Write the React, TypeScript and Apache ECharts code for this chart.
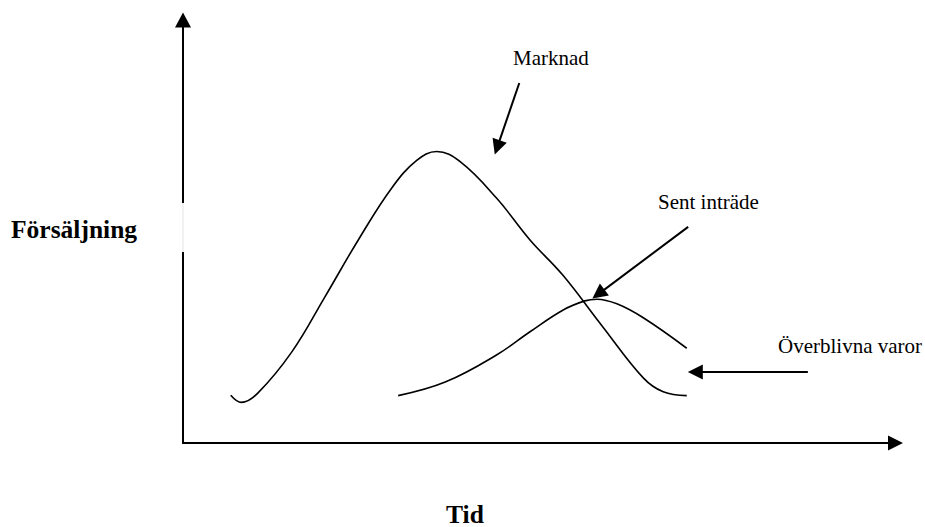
import React, { useEffect, useRef } from "react";
import * as echarts from "echarts";

// Curves (Tid, Försäljning), axis range 0..100
const marknadX = [6.7, 8.2, 10.5, 15.3, 19.9, 24.6, 29.3, 32.8, 35.6, 38.9, 44.0, 48.7, 53.3, 58.9, 64.6, 67.4, 70.7];
const marknadY = [11.3, 9.6, 11.8, 21.6, 34.5, 48.0, 60.3, 66.8, 68.9, 66.5, 57.9, 48.0, 39.7, 27.5, 15.4, 12.1, 11.2];

const sentX = [30.2, 36.8, 44.0, 48.7, 53.3, 56.4, 58.1, 60.9, 64.6, 70.7];
const sentY = [11.2, 14.4, 20.8, 26.3, 31.4, 33.6, 34.0, 32.9, 29.6, 22.4];

// Annotation arrows: [fromX, fromY, toX, toY]
const arrowMarknad = [47.2, 85.1, 44.1, 69.9];
const arrowSent = [70.9, 51.1, 58.3, 35.2];
const arrowOver = [87.7, 16.8, 71.9, 16.8];

const labelMarknad = "Marknad";
const labelSent = "Sent inträde";
const labelOver = "Överblivna varor";
const labelY = "Försäljning";
const labelX = "Tid";

const zip = (xs: number[], ys: number[]) => xs.map((x, i) => [x, ys[i]]);

const arrowItem = (a: number[]) => [
  { coord: [a[0], a[1]], symbol: "none" },
  { coord: [a[2], a[3]], symbol: "triangle", symbolSize: 15 },
];

const serif = "Liberation Serif";

const txt = (text: string, x: number, y: number, size: number, bold: boolean) => ({
  type: "text",
  z: 102,
  style: {
    text,
    x,
    y,
    fontFamily: serif,
    fontSize: size,
    fontWeight: bold ? "bold" : "normal",
    fill: "#000",
    verticalAlign: "middle",
    align: "left",
  },
});

export default function App() {
  const ref = useRef<HTMLDivElement>(null);
  useEffect(() => {
    if (!ref.current) return;
    const chart = echarts.init(ref.current, undefined, { renderer: "svg" });
    chart.setOption({
      animation: false,
      backgroundColor: "#ffffff",
      grid: { left: 183, top: 20, right: 29.5, bottom: 84 },
      xAxis: {
        type: "value",
        min: 0,
        max: 100,
        axisLine: {
          show: true,
          symbol: ["none", "triangle"],
          symbolSize: [15, 15],
          lineStyle: { color: "#000", width: 2 },
        },
        axisTick: { show: false },
        axisLabel: { show: false },
        splitLine: { show: false },
      },
      yAxis: {
        type: "value",
        min: 0,
        max: 100,
        axisLine: {
          show: true,
          symbol: ["none", "triangle"],
          symbolSize: [16, 15],
          lineStyle: { color: "#000", width: 2 },
        },
        axisTick: { show: false },
        axisLabel: { show: false },
        splitLine: { show: false },
      },
      series: [
        {
          name: labelMarknad,
          type: "line",
          data: zip(marknadX, marknadY),
          smooth: 0.4,
          showSymbol: false,
          symbol: "none",
          lineStyle: { color: "#000", width: 1.6 },
          silent: true,
          markLine: {
            silent: true,
            animation: false,
            label: { show: false },
            lineStyle: { color: "#000", width: 2, type: "solid" },
            emphasis: { disabled: true },
            data: [arrowItem(arrowMarknad), arrowItem(arrowSent), arrowItem(arrowOver)],
          },
        },
        {
          name: labelSent,
          type: "line",
          data: zip(sentX, sentY),
          smooth: 0.4,
          showSymbol: false,
          symbol: "none",
          lineStyle: { color: "#000", width: 1.6 },
          silent: true,
        },
      ],
      graphic: [
        { type: "rect", z: 100, shape: { x: 178, y: 203, width: 11, height: 49 }, style: { fill: "#fff" } },
        { type: "line", z: 101, shape: { x1: 183, y1: 203, x2: 183, y2: 252 }, style: { stroke: "#e4e4e4", lineWidth: 1 } },
        txt(labelMarknad, 513, 58, 21, false),
        txt(labelSent, 658, 202, 21, false),
        txt(labelOver, 778, 346, 21, false),
        txt(labelY, 11, 229, 25.5, true),
        txt(labelX, 446, 514, 25.5, true),
      ],
    });
    return () => chart.dispose();
  }, []);
  return (
    <div
      ref={ref}
      style={{ position: "fixed", left: 0, top: 0, width: 925, height: 527, background: "#fff" }}
    />
  );
}
